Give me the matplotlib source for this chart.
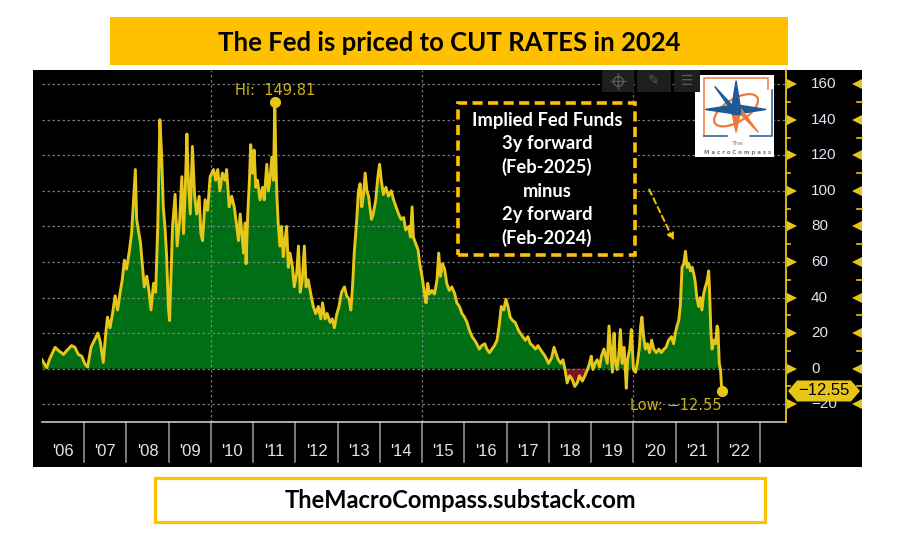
import matplotlib
matplotlib.use("Agg")
import matplotlib.pyplot as plt
import matplotlib.transforms as mtransforms
from matplotlib.patches import Rectangle, Polygon, Ellipse
from matplotlib.lines import Line2D
import numpy as np

# ---------------- data (decimal year, spread in bp) ----------------
dates = [
    2006.00, 2006.11, 2006.19, 2006.31, 2006.40, 2006.51, 2006.58, 2006.70, 2006.78, 2006.86, 2006.94,
    2007.02, 2007.08, 2007.16, 2007.24, 2007.32, 2007.38, 2007.45, 2007.51, 2007.55, 2007.61, 2007.67,
    2007.73, 2007.79, 2007.85, 2007.90, 2007.95,
    2008.00, 2008.06, 2008.12, 2008.18, 2008.21, 2008.24, 2008.28, 2008.33, 2008.38, 2008.42, 2008.48,
    2008.53, 2008.58, 2008.64, 2008.69, 2008.74, 2008.79, 2008.83, 2008.87, 2008.91, 2008.95, 2008.99,
    2009.02, 2009.05, 2009.09, 2009.15, 2009.20, 2009.26, 2009.31, 2009.35, 2009.39, 2009.43, 2009.46,
    2009.51, 2009.56, 2009.61, 2009.66, 2009.72, 2009.76, 2009.80, 2009.86, 2009.92, 2009.98,
    2010.06, 2010.11, 2010.16, 2010.21, 2010.27, 2010.33, 2010.37, 2010.43, 2010.49, 2010.55, 2010.61,
    2010.65, 2010.69, 2010.73, 2010.77, 2010.81, 2010.83, 2010.87, 2010.91, 2010.94, 2010.98,
    2011.02, 2011.06, 2011.10, 2011.16, 2011.22, 2011.26, 2011.32, 2011.36, 2011.40, 2011.44, 2011.48,
    2011.51, 2011.53, 2011.56, 2011.59, 2011.63, 2011.67, 2011.71, 2011.75, 2011.79, 2011.83, 2011.87,
    2011.93, 2011.97,
    2012.03, 2012.07, 2012.11, 2012.16, 2012.21, 2012.25, 2012.30, 2012.37, 2012.42, 2012.48, 2012.54,
    2012.60, 2012.64, 2012.70, 2012.75, 2012.82, 2012.87, 2012.92, 2012.98,
    2013.03, 2013.09, 2013.16, 2013.21, 2013.27, 2013.31, 2013.35, 2013.39, 2013.45, 2013.49, 2013.53,
    2013.57, 2013.61, 2013.65, 2013.69, 2013.73, 2013.76, 2013.80, 2013.84, 2013.90, 2013.95, 2013.99,
    2014.03, 2014.08, 2014.14, 2014.20, 2014.27, 2014.32, 2014.38, 2014.44, 2014.50, 2014.56, 2014.61,
    2014.68, 2014.72, 2014.76, 2014.79, 2014.85, 2014.90, 2014.94, 2014.98,
    2015.02, 2015.06, 2015.09, 2015.13, 2015.17, 2015.23, 2015.29, 2015.35, 2015.39, 2015.43, 2015.48,
    2015.53, 2015.58, 2015.64, 2015.70, 2015.77, 2015.82, 2015.88, 2015.94,
    2016.00, 2016.06, 2016.11, 2016.18, 2016.24, 2016.29, 2016.35, 2016.41, 2016.48, 2016.53, 2016.59,
    2016.65, 2016.71, 2016.77, 2016.82, 2016.87, 2016.93, 2016.98,
    2017.03, 2017.08, 2017.14, 2017.20, 2017.27, 2017.32, 2017.38, 2017.44, 2017.50, 2017.56, 2017.61,
    2017.68, 2017.74, 2017.79, 2017.85, 2017.91, 2017.99,
    2018.06, 2018.12, 2018.16, 2018.22, 2018.28, 2018.33, 2018.38, 2018.43, 2018.49, 2018.55, 2018.61,
    2018.67, 2018.72, 2018.79, 2018.85, 2018.91, 2018.96,
    2019.00, 2019.04, 2019.09, 2019.14, 2019.20, 2019.24, 2019.30, 2019.34, 2019.38, 2019.42, 2019.46,
    2019.50, 2019.54, 2019.57, 2019.61, 2019.65, 2019.69, 2019.73, 2019.78, 2019.83, 2019.86, 2019.91,
    2019.95,
    2020.00, 2020.05, 2020.09, 2020.14, 2020.17, 2020.20, 2020.24, 2020.28, 2020.33, 2020.38, 2020.43,
    2020.48, 2020.54, 2020.60, 2020.66, 2020.72, 2020.77, 2020.83, 2020.90, 2020.95, 2020.99,
    2021.03, 2021.07, 2021.11, 2021.15, 2021.19, 2021.23, 2021.27, 2021.31, 2021.35, 2021.39, 2021.43,
    2021.46, 2021.50, 2021.54, 2021.58, 2021.62, 2021.66, 2021.70, 2021.74, 2021.78, 2021.80, 2021.83,
    2021.86, 2021.90, 2021.94, 2021.98,
    2022.00, 2022.03, 2022.06, 2022.09,
]
values = [
    5, 0.5, 6, 12, 10, 8, 10, 13, 12, 8, 7,
    2.5, 1, 12, 16, 20, 15, 3.5, 20, 29, 23, 31,
    41, 33, 43, 50, 61,
    56, 65, 76, 100, 112, 84, 78, 71, 57, 46, 52,
    44, 33, 48, 43, 80, 140, 121, 91, 80, 63, 35,
    27, 50, 80, 98, 69, 84, 108, 76, 100, 132, 108,
    87, 125, 98, 87, 97, 76, 72, 95, 89, 108,
    112, 106, 112, 100, 110, 106, 112, 91, 97, 91, 80,
    72, 87, 76, 65, 82, 59, 87, 106, 126, 110,
    123, 102, 106, 95, 102, 95, 115, 100, 108, 119, 106,
    149.81, 123, 97, 82, 69, 80, 63, 72, 80, 57, 65,
    57, 46,
    54, 69, 43, 50, 69, 46, 50, 41, 35, 31, 35,
    28, 37, 28, 31, 26, 28, 23, 31,
    35, 43, 46, 41, 39, 33, 46, 65, 84, 100, 104,
    91, 98, 110, 100, 97, 91, 84, 87, 95, 108, 115,
    106, 98, 102, 97, 100, 95, 91, 87, 84, 85, 78,
    80, 74, 91, 74, 70, 67, 59, 54,
    48, 41, 37, 48, 42, 44, 42, 50, 65, 52, 59,
    56, 48, 44, 46, 42, 37, 35, 31,
    29, 26, 22, 18, 16, 14, 11, 13, 14, 11, 9,
    11, 13, 16, 24, 35, 33, 39,
    35, 29, 27, 26, 22, 20, 18, 16, 18, 14, 13,
    11, 13, 11, 9, 7, 3,
    6, 12, 9, 5, 3, 5, -0.5, -8, -4, -6, -10,
    -8, -4, -7, -4, -0.5, 3,
    7, -0.5, 3, 5, 1, 7, 11, 7, 3, 24, 11,
    -2, 20, 5, -0.5, 7, 22, 3, 12, -11, 5, 11,
    22,
    -0.5, -2, 3, 12, 24, 29, 18, 11, 14, 9, 16,
    11, 9, 11, 9, 11, 12, 16, 18, 14, 20,
    24, 27, 36, 57, 59, 66, 57, 59, 55, 57, 53,
    49, 40, 35, 40, 33, 42, 46, 49, 55, 44, 22,
    11, 16, 14, 24,
    22, 3, -0.5, -12.55,
]
year_labels = ["'06", "'07", "'08", "'09", "'10", "'11", "'12", "'13", "'14",
               "'15", "'16", "'17", "'18", "'19", "'20", "'21", "'22"]
title_text = "The Fed is priced to CUT RATES in 2024"
footer_text = "TheMacroCompass.substack.com"
box_text = "Implied Fed Funds\n3y forward\n(Feb-2025)\nminus\n2y forward\n(Feb-2024)"

# ---------------- styling ----------------
W, H = 898, 547
YEL = "#E6C619"
GOLD = "#FFC000"
GREEN = "#006E14"
RED = "#7A1424"
LABEL = "#DCE6F0"
GRID = "#8C8C8C"

fig = plt.figure(figsize=(W / 100, H / 100), dpi=100, facecolor="white")


def fr(x0, y0, x1, y1):
    """pixel box (top-left origin) -> figure fraction rect"""
    return [x0 / W, 1 - y1 / H, (x1 - x0) / W, (y1 - y0) / H]


# black chart background
bg = Rectangle((33 / W, 1 - 467 / H), (862 - 33) / W, (467 - 70) / H,
               transform=fig.transFigure, facecolor="black", edgecolor="none", zorder=-5)
fig.patches.append(bg)

# title banner
fig.patches.append(Rectangle((110 / W, 1 - 65 / H), (788 - 110) / W, (65 - 17) / H,
                             transform=fig.transFigure, facecolor=GOLD, edgecolor="none"))
fig.text(449 / W, 1 - 43 / H, title_text, ha="center", va="center", fontsize=18.5,
         fontweight="bold", family="Lato", color="black")

# footer box
fig.patches.append(Rectangle((155 / W, 1 - 522 / H), (765 - 155) / W, (522 - 478) / H,
                             transform=fig.transFigure, facecolor="white", edgecolor=GOLD,
                             linewidth=2.3))
fig.text(460 / W, 1 - 500 / H, footer_text, ha="center", va="center", fontsize=17,
         fontweight="bold", family="Lato", color="black")

# ---------------- main axes ----------------
ax = fig.add_axes(fr(42, 70, 786, 422))
ax.set_facecolor("black")
x = np.array(dates)
y = np.array(values)
ax.set_xlim(2006.0, 2023.61)
ax.set_ylim(-30, 168)

ax.fill_between(x, y, 0, where=y >= 0, interpolate=True, color=GREEN, linewidth=0, zorder=1)
ax.fill_between(x, y, 0, where=y <= 0, interpolate=True, color=RED, linewidth=0, zorder=1)

# grid
for gv in range(-20, 161, 20):
    ax.axhline(gv, color=GRID, lw=0.9, ls=(0, (2, 2)), alpha=0.85, zorder=2)
for gx in (2010, 2015, 2020):
    ax.axvline(gx, color=GRID, lw=0.9, ls=(0, (2, 2)), alpha=0.85, zorder=2)

ax.plot(x, y, color=YEL, lw=2.1, zorder=3, solid_joinstyle="round")

# hi / low markers
imax = int(np.argmax(y))
imin = int(np.argmin(y))
ax.plot([x[imax]], [y[imax]], "o", color=YEL, ms=7, zorder=4)
ax.plot([x[imin]], [y[imin]], "o", color=YEL, ms=7, zorder=4)
ax.annotate(f"Hi:  {y[imax]:.2f}", (x[imax], y[imax]), xytext=(0, 3), textcoords="offset points",
            ha="center", va="bottom", color="#C9B516", fontsize=10.5, zorder=5)
ax.annotate(f"Low: \u2212{abs(y[imin]):.2f}", (x[imin], y[imin]), xytext=(0, -5),
            textcoords="offset points", ha="right", va="top", color="#C9B516",
            fontsize=10.5, zorder=5)

# spines
for s in ("top", "left"):
    ax.spines[s].set_visible(False)
ax.spines["right"].set_color(YEL)
ax.spines["right"].set_linewidth(1.3)
ax.spines["bottom"].set_color("#C8C8C8")
ax.spines["bottom"].set_linewidth(1.2)
ax.set_xticks([])
ax.set_yticks([])

# x axis: year separators and centred labels
bt = mtransforms.blended_transform_factory(ax.transData, ax.transAxes)
sep_len = 40 / 352
for yr in range(2007, 2024):
    ax.plot([yr, yr], [0, -sep_len], transform=bt, color="#9A9A9A", lw=1.1, clip_on=False)
for i, lab in enumerate(year_labels):
    ax.text(2006 + i + 0.5, -30 / 352, lab, transform=bt, ha="center", va="center",
            color=LABEL, fontsize=12, family="Liberation Sans")

# right axis
rt = mtransforms.blended_transform_factory(ax.transAxes, ax.transData)
axw = 744.0
for v in range(-20, 161, 20):
    ax.plot([1 + 6 / axw], [v], marker=">", color=YEL, ms=6.5, transform=rt, clip_on=False,
            markeredgewidth=0)
    ax.plot([1 + 71 / axw], [v], marker="<", color=YEL, ms=6.5, transform=rt, clip_on=False,
            markeredgewidth=0)
    ax.text(1 + 25 / axw, v, str(v).replace("-", "\u2212"), transform=rt, ha="left",
            va="center", color=LABEL, fontsize=11, family="Liberation Sans")
for v in range(-10, 161, 20):
    ax.plot([1, 1 + 4 / axw], [v, v], color=YEL, lw=1.2, transform=rt, clip_on=False)
    ax.plot([1 + 71 / axw, 1 + 76 / axw], [v, v], color=YEL, lw=1.2, transform=rt,
            clip_on=False)

# last value hexagon tag
last = y[-1]
hh = 10.5 / 1.778
hx = [1 + 2 / axw, 1 + 11 / axw, 1 + 65 / axw, 1 + 74 / axw, 1 + 65 / axw, 1 + 11 / axw]
hy = [last, last + hh, last + hh, last, last - hh, last - hh]
ax.add_patch(Polygon(list(zip(hx, hy)), closed=True, transform=rt, facecolor=YEL,
                     edgecolor="none", clip_on=False, zorder=6))
ax.text(1 + 38 / axw, last, f"\u2212{abs(last):.2f}", transform=rt, ha="center", va="center",
        color="black", fontsize=12, family="Liberation Sans", zorder=7)

# toolbar (faint)
for (tx0, tx1) in ((602, 634), (637, 671), (674, 700)):
    fig.patches.append(Rectangle((tx0 / W, 1 - 92 / H), (tx1 - tx0) / W, 22 / H,
                                 transform=fig.transFigure, facecolor="#1E1E1E",
                                 edgecolor="none", zorder=2))
tcx, tcy = 618 / W, 1 - 81 / H
fig.add_artist(Line2D([tcx], [tcy], marker="o", ms=7, mfc="none", mec="#5A5A5A", mew=1,
                      transform=fig.transFigure, zorder=3))
fig.add_artist(Line2D([tcx], [tcy], marker="+", ms=12, mec="#5A5A5A", mew=1,
                      transform=fig.transFigure, zorder=3))
fig.text(654 / W, 1 - 81 / H, "\u270E", ha="center", va="center", color="#5A5A5A",
         fontsize=10, family="DejaVu Sans", zorder=3)
fig.text(687 / W, 1 - 81 / H, "\u2630", ha="center", va="center", color="#5A5A5A",
         fontsize=10, family="DejaVu Sans", zorder=3)

# annotation box
fig.patches.append(Rectangle((458 / W, 1 - 255 / H), (635 - 458) / W, (255 - 103) / H,
                             transform=fig.transFigure, facecolor="black", edgecolor=GOLD,
                             linewidth=2.6, linestyle=(0, (2.8, 1.5)), zorder=3))
fig.text(547 / W, 1 - 179.5 / H, box_text, ha="center", va="center", multialignment="center",
         color="white", fontsize=13.2, fontweight="bold", family="Lato", linespacing=1.44,
         zorder=4)
ax.annotate("", xy=(675 / W, 1 - 243 / H), xytext=(648 / W, 1 - 187 / H),
            xycoords="figure fraction", textcoords="figure fraction",
            arrowprops=dict(arrowstyle="-|>", color=GOLD, lw=1.4, linestyle=(0, (3, 2)),
                            mutation_scale=10), zorder=6)

# logo
lg = fig.add_axes(fr(695, 75, 774, 157))
lg.set_xlim(0, 1)
lg.set_ylim(0, 1)
lg.set_facecolor("white")
for s in lg.spines.values():
    s.set_visible(False)
lg.set_xticks([])
lg.set_yticks([])
OR = "#F07838"
BL = "#1F5A96"
lg.plot([0.11, 0.11, 0.93, 0.93], [0.26, 0.96, 0.96, 0.83], color=OR, lw=1.1)
lg.plot([0.97, 0.97, 0.7], [0.82, 0.26, 0.26], color=BL, lw=1.1)
lg.plot([0.11, 0.4], [0.26, 0.26], color=BL, lw=1.1)
lg.add_patch(Ellipse((0.52, 0.57), 0.62, 0.28, angle=30, fill=False, edgecolor=OR, lw=1.6))
cx, cy = 0.52, 0.58
lg.add_patch(Polygon([(cx, 0.93), (cx + 0.05, cy + 0.05), (cx - 0.05, cy + 0.05)], color=BL))
lg.add_patch(Polygon([(0.13, cy), (cx - 0.05, cy + 0.05), (cx - 0.05, cy - 0.05)], color=BL))
lg.add_patch(Polygon([(0.9, cy), (cx + 0.05, cy + 0.05), (cx + 0.05, cy - 0.05)], color=BL))
lg.add_patch(Polygon([(cx, 0.3), (cx + 0.05, cy - 0.05), (cx - 0.05, cy - 0.05)], color=OR))
lg.add_patch(Polygon([(0.8, 0.3), (cx + 0.03, cy - 0.03), (cx + 0.06, cy + 0.01)], color=OR))
lg.add_patch(Polygon([(0.25, 0.86), (cx - 0.03, cy + 0.03), (cx - 0.06, cy - 0.01)], color=BL))
lg.add_patch(Polygon([(cx - 0.05, cy + 0.05), (cx + 0.05, cy + 0.05), (cx + 0.05, cy - 0.05),
                      (cx - 0.05, cy - 0.05)], color=BL))
lg.text(0.54, 0.17, "The", ha="center", va="center", fontsize=4.5, color="#7A7A7A")
lg.text(0.54, 0.06, "M a c r o C o m p a s s", ha="center", va="center", fontsize=4,
        color="#7A7A7A", fontweight="bold")

fig.savefig("out.png", dpi=100, facecolor="white")
